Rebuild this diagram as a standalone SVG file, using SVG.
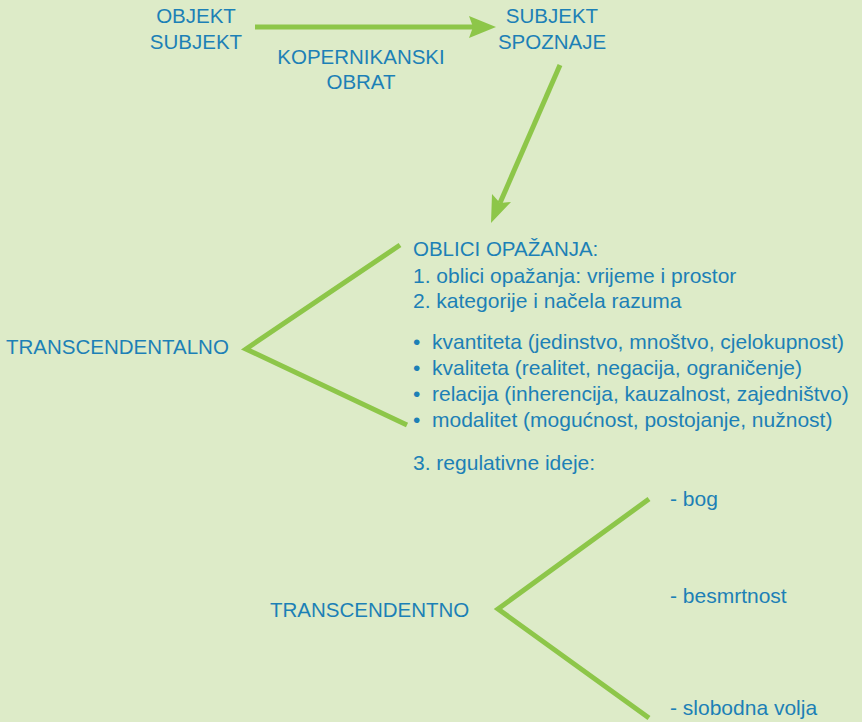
<svg xmlns="http://www.w3.org/2000/svg" width="862" height="722" viewBox="0 0 862 722">
<style>
text{font-family:"Liberation Sans",Arial,sans-serif;fill:#1c80b6}
.cap{font-size:20.5px}
.low{font-size:21px}
.ln{stroke:#8dc649;stroke-width:5;fill:none;stroke-linecap:butt}
.ah{fill:#8dc649}
</style>
<rect width="862" height="722" fill="#ddebc8"/>
<g id="connectors">
<line class="ln" x1="255" y1="27" x2="474" y2="27"/>
<polygon class="ah" points="496,27 469,16 473,27 469,38"/>
<line class="ln" x1="560" y1="65" x2="500" y2="203"/>
<polygon class="ah" points="491,223 492,194 500,203 511,202"/>
<polyline class="ln" points="400,245 246,349 407,425"/>
<polyline class="ln" points="649,499 498,609 649,718"/>
</g>
<g id="objekt-subjekt">
<text class="cap" x="196" y="23" text-anchor="middle">OBJEKT</text>
<text class="cap" x="196" y="49" text-anchor="middle">SUBJEKT</text>
</g>
<g id="kopernikanski-obrat">
<text class="cap" x="361" y="64" text-anchor="middle">KOPERNIKANSKI</text>
<text class="cap" x="361" y="89" text-anchor="middle">OBRAT</text>
</g>
<g id="subjekt-spoznaje">
<text class="cap" x="552" y="23" text-anchor="middle">SUBJEKT</text>
<text class="cap" x="552" y="49" text-anchor="middle">SPOZNAJE</text>
</g>
<g id="transcendentalno">
<text class="cap" x="6" y="354">TRANSCENDENTALNO</text>
</g>
<g id="oblici">
<text class="cap" x="413" y="256">OBLICI OPAŽANJA:</text>
<text class="low" x="413" y="283">1. oblici opažanja: vrijeme i prostor</text>
<text class="low" x="413" y="308">2. kategorije i načela razuma</text>
<text class="low" x="413" y="349">•</text>
<text class="low" x="432" y="349">kvantiteta (jedinstvo, mnoštvo, cjelokupnost)</text>
<text class="low" x="413" y="375">•</text>
<text class="low" x="432" y="375">kvaliteta (realitet, negacija, ograničenje)</text>
<text class="low" x="413" y="401">•</text>
<text class="low" x="432" y="401">relacija (inherencija, kauzalnost, zajedništvo)</text>
<text class="low" x="413" y="427">•</text>
<text class="low" x="432" y="427">modalitet (mogućnost, postojanje, nužnost)</text>
<text class="low" x="413" y="470">3. regulativne ideje:</text>
</g>
<g id="transcendentno">
<text class="cap" x="270" y="617">TRANSCENDENTNO</text>
</g>
<g id="ideje">
<text class="low" x="670" y="506">- bog</text>
<text class="low" x="670" y="603">- besmrtnost</text>
<text class="low" x="670" y="715">- slobodna volja</text>
</g>
</svg>
